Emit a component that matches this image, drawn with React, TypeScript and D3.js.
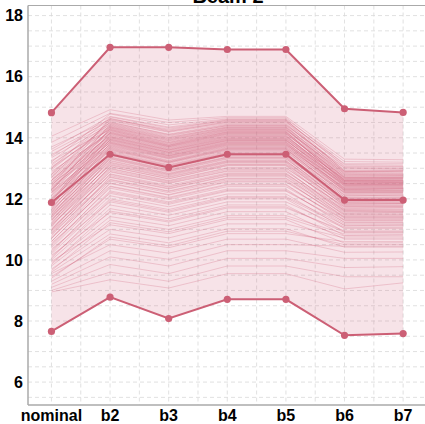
import React from "react";
import * as d3 from "d3";

const categories = ["nominal", "b2", "b3", "b4", "b5", "b6", "b7"];
const yTicks = [6, 8, 10, 12, 14, 16, 18];

const upperValues = [14.82, 16.96, 16.96, 16.89, 16.89, 14.95, 14.83];
const medianValues = [11.88, 13.46, 13.03, 13.46, 13.46, 11.96, 11.96];
const lowerValues = [7.66, 8.78, 8.08, 8.71, 8.71, 7.53, 7.59];

// individual runs: nominal, b2, b3, b4, b5, b6, b7
const runs: number[][] = [
  [14.05, 14.92, 14.58, 14.7, 14.7, 13.3, 13.28],
  [13.85, 14.8, 14.5, 14.66, 14.66, 13.12, 13.1],
  [13.2, 14.78, 14.42, 14.62, 14.62, 13.22, 13.2],
  [13.62, 14.7, 14.35, 14.6, 14.6, 12.9, 12.92],
  [13.4, 14.62, 14.28, 14.58, 14.58, 13.05, 13.04],
  [12.7, 14.58, 14.2, 14.52, 14.52, 13.15, 13.15],
  [13.55, 14.55, 14.18, 14.47, 14.47, 12.8, 12.78],
  [13.1, 14.5, 14.12, 14.44, 14.44, 12.95, 12.95],
  [12.95, 14.46, 14.05, 14.4, 14.4, 13.0, 12.98],
  [13.35, 14.42, 14.0, 14.36, 14.36, 12.7, 12.7],
  [12.5, 14.4, 13.98, 14.33, 14.33, 12.88, 12.9],
  [13.0, 14.36, 13.92, 14.3, 14.3, 12.6, 12.62],
  [12.85, 14.33, 13.9, 14.27, 14.27, 12.82, 12.8],
  [12.3, 14.3, 13.85, 14.24, 14.24, 12.75, 12.74],
  [13.25, 14.27, 13.82, 14.2, 14.2, 12.55, 12.55],
  [12.6, 14.24, 13.8, 14.18, 14.18, 12.68, 12.7],
  [12.75, 14.2, 13.75, 14.15, 14.15, 12.62, 12.6],
  [12.2, 14.17, 13.72, 14.12, 14.12, 12.72, 12.72],
  [12.9, 14.14, 13.7, 14.08, 14.08, 12.45, 12.46],
  [12.45, 14.1, 13.66, 14.05, 14.05, 12.58, 12.58],
  [12.65, 14.06, 13.62, 14.02, 14.02, 12.5, 12.48],
  [12.1, 14.03, 13.6, 13.98, 13.98, 12.64, 12.65],
  [12.55, 14.0, 13.56, 13.95, 13.95, 12.4, 12.4],
  [12.35, 13.96, 13.52, 13.92, 13.92, 12.52, 12.52],
  [11.95, 13.93, 13.5, 13.9, 13.9, 12.56, 12.55],
  [12.5, 13.9, 13.46, 13.86, 13.86, 12.3, 12.32],
  [12.15, 13.86, 13.42, 13.83, 13.83, 12.44, 12.44],
  [12.4, 13.83, 13.4, 13.8, 13.8, 12.25, 12.25],
  [11.8, 13.8, 13.36, 13.77, 13.77, 12.48, 12.46],
  [12.25, 13.76, 13.33, 13.74, 13.74, 12.35, 12.36],
  [12.05, 13.72, 13.3, 13.7, 13.7, 12.2, 12.2],
  [11.7, 13.7, 13.26, 13.68, 13.68, 12.38, 12.38],
  [12.2, 13.66, 13.22, 13.65, 13.65, 12.1, 12.12],
  [11.9, 13.62, 13.2, 13.62, 13.62, 12.28, 12.27],
  [12.0, 13.58, 13.16, 13.58, 13.58, 12.05, 12.05],
  [11.6, 13.55, 13.12, 13.55, 13.55, 12.22, 12.22],
  [11.85, 13.5, 13.08, 13.5, 13.5, 12.0, 12.0],
  [11.75, 13.46, 13.03, 13.46, 13.46, 12.12, 12.1],
  [11.5, 13.42, 13.0, 13.42, 13.42, 11.9, 11.9],
  [11.65, 13.38, 12.96, 13.38, 13.38, 12.02, 12.02],
  [11.4, 13.34, 12.92, 13.35, 13.35, 11.82, 11.84],
  [11.55, 13.3, 12.88, 13.3, 13.3, 11.95, 11.95],
  [11.3, 13.26, 12.84, 13.26, 13.26, 11.75, 11.75],
  [11.45, 13.2, 12.8, 13.22, 13.22, 11.88, 11.86],
  [11.2, 13.15, 12.75, 13.18, 13.18, 11.68, 11.7],
  [11.35, 13.1, 12.7, 13.12, 13.12, 11.8, 11.8],
  [11.1, 13.05, 12.65, 13.08, 13.08, 11.6, 11.6],
  [11.25, 13.0, 12.6, 13.02, 13.02, 11.72, 11.72],
  [11.0, 12.94, 12.55, 12.96, 12.96, 11.52, 11.54],
  [11.15, 12.88, 12.5, 12.9, 12.9, 11.64, 11.64],
  [10.9, 12.82, 12.44, 12.85, 12.85, 11.45, 11.45],
  [11.05, 12.76, 12.38, 12.8, 12.8, 11.56, 11.55],
  [10.8, 12.7, 12.32, 12.74, 12.74, 11.38, 11.38],
  [10.95, 12.64, 12.26, 12.68, 12.68, 11.48, 11.48],
  [10.7, 12.58, 12.2, 12.62, 12.62, 11.3, 11.32],
  [10.6, 12.5, 12.12, 12.55, 12.55, 11.4, 11.4],
  [10.75, 12.42, 12.05, 12.48, 12.48, 11.22, 11.22],
  [10.5, 12.35, 11.98, 12.4, 12.4, 11.32, 11.3],
  [10.4, 12.26, 11.9, 12.32, 12.32, 11.12, 11.14],
  [10.55, 12.18, 11.82, 12.25, 12.25, 11.24, 11.24],
  [10.3, 12.1, 11.74, 12.16, 12.16, 11.02, 11.02],
  [10.2, 12.0, 11.65, 12.08, 12.08, 11.14, 11.14],
  [10.35, 11.9, 11.56, 12.0, 12.0, 10.92, 10.92],
  [10.1, 11.8, 11.46, 11.9, 11.9, 11.05, 11.05],
  [10.0, 11.68, 11.35, 11.8, 11.8, 10.8, 10.82],
  [10.15, 11.55, 11.24, 11.7, 11.7, 10.95, 10.95],
  [9.9, 11.42, 11.12, 11.58, 11.58, 10.68, 10.68],
  [9.8, 11.3, 11.0, 11.45, 11.45, 10.85, 10.85],
  [9.95, 11.15, 10.86, 11.32, 11.32, 10.55, 10.56],
  [9.7, 11.0, 10.72, 11.18, 11.18, 10.72, 10.72],
  [9.6, 10.85, 10.56, 11.02, 11.02, 10.42, 10.42],
  [9.45, 10.68, 10.4, 10.86, 10.86, 10.6, 10.6],
  [9.55, 10.5, 10.22, 10.68, 10.68, 10.25, 10.26],
  [9.3, 10.3, 10.02, 10.5, 10.5, 10.45, 10.45],
  [9.2, 10.1, 9.8, 10.3, 10.3, 10.05, 10.05],
  [9.1, 9.85, 9.55, 10.05, 10.05, 9.75, 9.78],
  [9.0, 9.6, 9.3, 9.8, 9.8, 9.45, 9.45],
  [8.95, 9.35, 9.08, 9.55, 9.55, 9.05, 9.25],
  [13.0, 14.68, 14.32, 14.56, 14.56, 13.08, 13.06],
  [12.4, 14.64, 14.22, 14.5, 14.5, 12.92, 12.92],
  [13.7, 14.6, 14.25, 14.54, 14.54, 12.85, 12.84],
  [12.8, 14.52, 14.1, 14.42, 14.42, 13.02, 13.0],
  [13.45, 14.48, 14.08, 14.39, 14.39, 12.75, 12.76],
  [12.25, 14.44, 14.02, 14.35, 14.35, 12.9, 12.88],
  [13.15, 14.38, 13.96, 14.32, 14.32, 12.66, 12.66],
  [12.6, 14.35, 13.94, 14.28, 14.28, 12.78, 12.78],
  [11.9, 14.32, 13.88, 14.25, 14.25, 12.85, 12.84],
  [13.05, 14.28, 13.84, 14.22, 14.22, 12.52, 12.54],
  [12.35, 14.25, 13.78, 14.19, 14.19, 12.7, 12.68],
  [12.8, 14.22, 13.76, 14.16, 14.16, 12.58, 12.56],
  [11.85, 14.18, 13.74, 14.13, 14.13, 12.66, 12.66],
  [12.7, 14.15, 13.71, 14.1, 14.1, 12.48, 12.5],
  [12.3, 14.12, 13.68, 14.06, 14.06, 12.6, 12.6],
  [11.75, 14.08, 13.64, 14.03, 14.03, 12.62, 12.62],
  [12.6, 14.04, 13.6, 14.0, 14.0, 12.42, 12.42],
  [12.0, 14.01, 13.58, 13.97, 13.97, 12.55, 12.54],
  [12.45, 13.98, 13.54, 13.94, 13.94, 12.36, 12.36],
  [11.65, 13.95, 13.52, 13.91, 13.91, 12.5, 12.5],
  [12.3, 13.92, 13.48, 13.88, 13.88, 12.32, 12.34],
  [11.95, 13.88, 13.44, 13.85, 13.85, 12.46, 12.46],
  [12.2, 13.85, 13.41, 13.82, 13.82, 12.28, 12.28],
  [11.55, 13.82, 13.38, 13.79, 13.79, 12.42, 12.42],
  [12.1, 13.78, 13.35, 13.76, 13.76, 12.24, 12.24],
  [11.8, 13.74, 13.32, 13.72, 13.72, 12.34, 12.34],
  [11.45, 13.68, 13.24, 13.66, 13.66, 12.3, 12.3],
  [12.0, 13.64, 13.2, 13.63, 13.63, 12.14, 12.14],
  [11.7, 13.6, 13.18, 13.6, 13.6, 12.2, 12.2],
  [11.4, 13.52, 13.1, 13.52, 13.52, 12.18, 12.18],
  [11.6, 13.48, 13.06, 13.48, 13.48, 12.06, 12.06],
  [11.3, 13.44, 13.02, 13.44, 13.44, 11.98, 11.98],
  [11.5, 13.36, 12.94, 13.36, 13.36, 12.0, 12.0],
  [11.2, 13.32, 12.9, 13.32, 13.32, 11.86, 11.86],
  [11.4, 13.24, 12.82, 13.24, 13.24, 11.92, 11.9],
  [11.1, 13.18, 12.78, 13.2, 13.2, 11.78, 11.78],
  [11.3, 13.12, 12.72, 13.14, 13.14, 11.84, 11.84],
  [10.95, 13.06, 12.66, 13.1, 13.1, 11.66, 11.66],
  [11.15, 12.98, 12.58, 13.0, 13.0, 11.74, 11.74],
  [10.85, 12.9, 12.52, 12.92, 12.92, 11.58, 11.58],
  [11.0, 12.8, 12.4, 12.82, 12.82, 11.62, 11.6],
  [10.7, 12.72, 12.34, 12.76, 12.76, 11.5, 11.5],
  [10.85, 12.62, 12.24, 12.66, 12.66, 11.42, 11.42],
  [10.6, 12.52, 12.14, 12.58, 12.58, 11.36, 11.36],
  [10.45, 12.4, 12.02, 12.45, 12.45, 11.28, 11.28],
  [10.25, 12.22, 11.86, 12.28, 12.28, 11.18, 11.18],
  [10.05, 11.95, 11.6, 12.04, 12.04, 11.08, 11.08],
  [9.85, 11.6, 11.28, 11.74, 11.74, 10.9, 10.9],
  [9.65, 11.22, 10.92, 11.38, 11.38, 10.78, 10.78],
  [9.4, 10.75, 10.46, 10.94, 10.94, 10.5, 10.5],
];

const W = 425;
const H = 424;
const left = 28;
const right = 426;
const top = 5.5;
const bottom = 405;

const LINE = "#cc5f75";

export default function App() {
  const x = d3.scaleLinear().domain([-0.4, 6.39]).range([left, right]);
  const y = d3.scaleLinear().domain([5.25, 18.33]).range([bottom, top]);

  const line = d3
    .line<number>()
    .x((_, i) => x(i))
    .y((v) => y(v));

  const band = d3
    .area<number>()
    .x((_, i) => x(i))
    .y0((_, i) => y(lowerValues[i]))
    .y1((v) => y(v));

  const hGrid = d3.range(5.5, 18.01, 0.5);
  const vGrid = d3.range(0, 6.51, 0.5);

  return (
    <svg
      width={W}
      height={H}
      style={{ position: "absolute", left: 0, top: 0, background: "#fff" }}
      fontFamily="'Liberation Sans', Arial, sans-serif"
    >
      <text x={228} y={3} textAnchor="middle" fontSize={20} fontWeight="bold" fill="#000">
        Beam 2
      </text>

      <g stroke="#d9d9d9" strokeWidth={0.8} strokeDasharray="4,3" fill="none">
        {hGrid.map((v) => (
          <line key={"h" + v} x1={left} x2={W} y1={y(v)} y2={y(v)} />
        ))}
        {vGrid.map((v) => (
          <line key={"v" + v} x1={x(v)} x2={x(v)} y1={top} y2={bottom} />
        ))}
      </g>

      <path d={band(upperValues) ?? ""} fill="#d05a75" fillOpacity={0.17} stroke="none" />

      <g fill="none" stroke="#d0607a" strokeOpacity={0.36} strokeWidth={0.75}>
        {runs.map((r, i) => (
          <path key={i} d={line(r) ?? ""} />
        ))}
      </g>

      {[upperValues, medianValues, lowerValues].map((series, si) => (
        <g key={si}>
          <path d={line(series) ?? ""} fill="none" stroke={LINE} strokeWidth={2} />
          {series.map((v, i) => (
            <circle key={i} cx={x(i)} cy={y(v)} r={3.6} fill={LINE} />
          ))}
        </g>
      ))}

      <line x1={left} x2={W} y1={top} y2={top} stroke="#aaa" strokeWidth={1} />
      <line x1={left} x2={left} y1={top} y2={bottom} stroke="#aaa" strokeWidth={1.5} />
      <line x1={left} x2={W} y1={bottom} y2={bottom} stroke="#aaa" strokeWidth={1.5} />

      <g fontSize={16} fontWeight="bold" fill="#000">
        {yTicks.map((t) => (
          <text key={t} x={left - 5} y={y(t)} dy="0.36em" textAnchor="end">
            {t}
          </text>
        ))}
        {categories.map((c, i) => (
          <text key={c} x={x(i)} y={bottom + 16} textAnchor="middle">
            {c}
          </text>
        ))}
      </g>
    </svg>
  );
}
